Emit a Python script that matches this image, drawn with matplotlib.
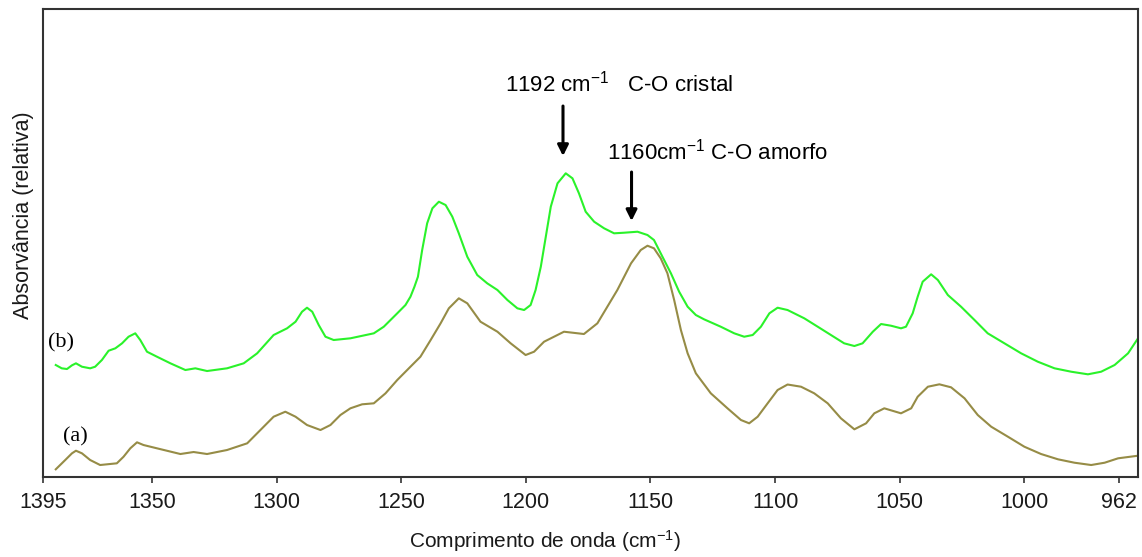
import matplotlib
matplotlib.use("Agg")
import matplotlib.pyplot as plt

plt.rcParams["font.family"] = ["Liberation Sans", "DejaVu Sans"]
plt.rcParams["mathtext.fontset"] = "custom"
plt.rcParams["mathtext.rm"] = "Liberation Sans"
plt.rcParams["mathtext.it"] = "Liberation Sans:italic"
plt.rcParams["mathtext.default"] = "regular"

# spectrum (a)
wn_a = [1388.6, 1384.8, 1382.1, 1380.5, 1378.1, 1374.8, 1370.8, 1364.1, 1361.4, 1358.7,
        1356.0, 1353.4, 1348.0, 1338.6, 1333.3, 1327.9, 1319.9, 1311.8, 1306.5, 1301.2,
        1296.5, 1292.4, 1287.8, 1282.4, 1278.4, 1274.4, 1270.4, 1265.7, 1261.0, 1256.3,
        1251.6, 1246.3, 1242.3, 1238.2, 1234.2, 1230.9, 1226.9, 1223.5, 1218.2, 1211.4,
        1206.1, 1200.1, 1196.7, 1192.7, 1184.7, 1176.7, 1171.3, 1163.3, 1157.8, 1153.9,
        1151.2, 1148.6, 1145.9, 1143.2, 1140.5, 1137.8, 1135.1, 1131.8, 1125.8, 1119.1,
        1113.7, 1110.4, 1107.0, 1103.0, 1099.0, 1095.0, 1089.6, 1084.3, 1078.9, 1073.6,
        1068.2, 1063.5, 1060.2, 1056.2, 1049.5, 1045.4, 1042.8, 1038.7, 1034.1, 1029.4,
        1024.0, 1018.7, 1013.3, 1006.6, 1000.0, 993.3, 986.5, 979.9, 973.2, 967.8,
        962.4, 954.4]
abs_a = [0.077, 0.170, 0.237, 0.263, 0.237, 0.170, 0.120, 0.137, 0.203, 0.287,
         0.347, 0.320, 0.287, 0.230, 0.250, 0.230, 0.270, 0.337, 0.470, 0.603,
         0.653, 0.603, 0.520, 0.470, 0.520, 0.620, 0.687, 0.727, 0.737, 0.837,
         0.970, 1.103, 1.203, 1.370, 1.537, 1.687, 1.787, 1.737, 1.553, 1.453,
         1.337, 1.220, 1.253, 1.353, 1.453, 1.430, 1.537, 1.870, 2.137, 2.270,
         2.313, 2.287, 2.187, 2.037, 1.770, 1.470, 1.237, 1.037, 0.837, 0.687,
         0.570, 0.537, 0.603, 0.737, 0.870, 0.925, 0.903, 0.837, 0.737, 0.587,
         0.477, 0.537, 0.637, 0.687, 0.637, 0.687, 0.803, 0.903, 0.927, 0.897,
         0.787, 0.620, 0.503, 0.403, 0.303, 0.230, 0.177, 0.143, 0.120, 0.143,
         0.187, 0.213]

# spectrum (b)
wn_b = [1388.6, 1386.2, 1384.1, 1382.1, 1380.5, 1378.1, 1374.8, 1372.8, 1370.1, 1367.4,
        1364.7, 1362.0, 1359.4, 1356.7, 1354.7, 1352.0, 1348.0, 1342.6, 1336.6, 1332.6,
        1327.9, 1319.9, 1313.2, 1307.8, 1301.2, 1295.8, 1292.4, 1289.8, 1287.8, 1285.7,
        1283.1, 1280.4, 1277.1, 1274.4, 1270.4, 1261.0, 1257.0, 1251.6, 1248.3, 1246.3,
        1244.7, 1243.3, 1241.6, 1239.6, 1237.5, 1234.9, 1232.2, 1229.5, 1226.9, 1223.5,
        1219.5, 1215.5, 1211.4, 1207.4, 1203.4, 1200.7, 1198.1, 1196.1, 1194.0, 1192.0,
        1190.0, 1187.3, 1184.0, 1181.3, 1178.7, 1176.0, 1172.6, 1168.6, 1164.6, 1160.6,
        1155.2, 1151.2, 1148.6, 1145.2, 1141.8, 1138.5, 1135.1, 1131.8, 1128.5, 1121.8,
        1116.4, 1112.4, 1109.0, 1105.7, 1102.3, 1099.0, 1095.0, 1088.3, 1082.9, 1077.6,
        1072.3, 1068.2, 1064.9, 1060.8, 1057.5, 1053.5, 1049.5, 1047.5, 1044.8, 1042.8,
        1040.8, 1037.4, 1034.7, 1030.7, 1025.4, 1020.0, 1014.7, 1008.0, 1001.3, 994.6,
        987.9, 981.2, 974.5, 969.2, 963.8, 958.4, 954.4]
abs_b = [1.120, 1.087, 1.080, 1.117, 1.137, 1.103, 1.087, 1.103, 1.170, 1.263,
         1.287, 1.337, 1.403, 1.437, 1.370, 1.253, 1.203, 1.137, 1.070, 1.087,
         1.060, 1.087, 1.137, 1.237, 1.420, 1.487, 1.553, 1.653, 1.693, 1.653,
         1.520, 1.403, 1.370, 1.377, 1.387, 1.437, 1.503, 1.637, 1.720, 1.803,
         1.903, 2.003, 2.270, 2.537, 2.687, 2.753, 2.720, 2.603, 2.437, 2.203,
         2.020, 1.937, 1.870, 1.770, 1.687, 1.670, 1.720, 1.870, 2.103, 2.403,
         2.703, 2.937, 3.037, 2.987, 2.837, 2.653, 2.553, 2.487, 2.437, 2.443,
         2.453, 2.420, 2.370, 2.203, 2.037, 1.853, 1.703, 1.620, 1.577, 1.503,
         1.437, 1.403, 1.420, 1.503, 1.637, 1.693, 1.670, 1.587, 1.503, 1.420,
         1.337, 1.310, 1.337, 1.453, 1.530, 1.513, 1.487, 1.503, 1.637, 1.803,
         1.953, 2.027, 1.970, 1.820, 1.703, 1.570, 1.437, 1.337, 1.237, 1.153,
         1.087, 1.053, 1.027, 1.053, 1.120, 1.237, 1.387]

tick_pos = [1393.7, 1350, 1300, 1250, 1200, 1150, 1100, 1050, 1000, 962]
tick_lab = ["1395", "1350", "1300", "1250", "1200", "1150", "1100", "1050", "1000", "962"]

fig = plt.figure(figsize=(11.42, 5.57), dpi=100)
ax = fig.add_axes([0.0377, 0.1436, 0.9586, 0.8402])

ax.plot(wn_a, abs_a, color="#968c46", lw=1.5)
ax.plot(wn_b, abs_b, color="#2af22a", lw=1.5)

ax.set_xlim(1393.7, 954.5)
ax.set_ylim(0, 4.68)
ax.set_xticks(tick_pos)
ax.set_xticklabels(tick_lab)
ax.set_yticks([])
ax.tick_params(axis="x", direction="out", length=4, width=1.2, colors="#333333",
               labelcolor="#1a1a1a", labelsize=15.5, pad=7)
for s in ax.spines.values():
    s.set_color("#333333")
    s.set_linewidth(1.5)

ax.set_xlabel("Comprimento de onda (cm$^{-1}$)", fontsize=15, color="#1a1a1a")
ax.xaxis.set_label_coords(0.459, -0.11)
ax.set_ylabel("Absorvância (relativa)", fontsize=15.5, color="#1a1a1a")
ax.yaxis.set_label_coords(-0.008, 0.56)

# curve labels
ax.text(1391.6, 1.34, "(b)", family="Liberation Serif", fontsize=16, va="center", ha="left")
ax.text(1385.6, 0.40, "(a)", family="Liberation Serif", fontsize=16, va="center", ha="left")

# peak annotations
arrow = dict(arrowstyle="-|>", color="black", lw=2.2, mutation_scale=16, shrinkA=0, shrinkB=0)
ax.annotate("", xy=(1185.1, 3.21), xytext=(1185.1, 3.71), arrowprops=arrow)
ax.annotate("", xy=(1157.6, 2.56), xytext=(1157.6, 3.05), arrowprops=arrow)
ax.text(1208.5, 3.93, "1192 cm$^{-1}$   C-O cristal", fontsize=16, va="center", ha="left")
ax.text(1167.5, 3.25, "1160cm$^{-1}$ C-O amorfo", fontsize=16, va="center", ha="left")

fig.savefig("out.png", dpi=100)
